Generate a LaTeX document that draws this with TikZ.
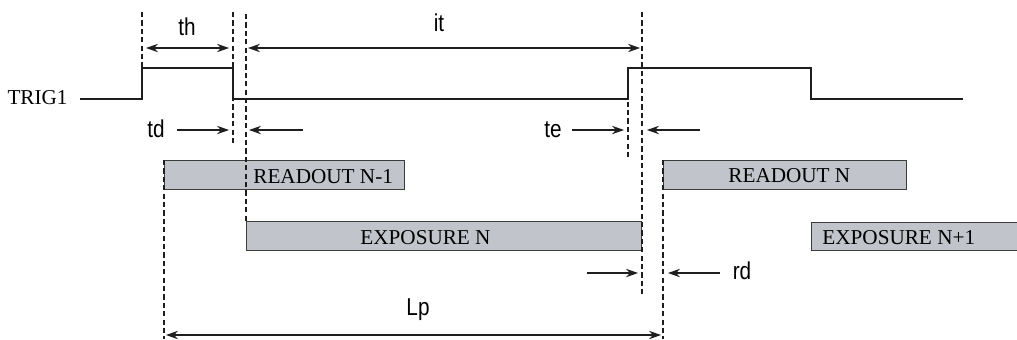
\documentclass[tikz,border=0pt]{standalone}
\usepackage{fontspec}
\setmainfont{Liberation Serif}
\setsansfont{Liberation Sans}[FakeStretch=0.85]
\usetikzlibrary{arrows.meta,positioning}
\definecolor{bargray}{RGB}{193,196,202}
\definecolor{barline}{RGB}{60,60,60}
\definecolor{sigline}{RGB}{30,30,30}
\tikzset{
	signal/.style={draw=sigline,line width=0.65pt},
	guide/.style={draw=sigline,line width=0.55pt,dash pattern=on 2.6pt off 1.6pt},
	bar/.style={draw=barline,fill=bargray,line width=0.5pt},
	gap/.style={draw=sigline,line width=0.55pt,-{Stealth[length=6pt,width=4.2pt]}},
	span/.style={draw=sigline,line width=0.55pt,{Stealth[length=6pt,width=4.2pt]}-{Stealth[length=6pt,width=4.2pt]}},
	tlabel/.style={font=\fontsize{12.2}{14}\sffamily,inner sep=0pt},
	blabel/.style={font=\fontsize{10.6}{12}\selectfont,inner sep=0pt},
}

\begin{document}
\begin{tikzpicture}[x=0.5pt,y=-0.5pt]
		\useasboundingbox (0,0) rectangle (1017,339);

		% bars
		\draw[bar] (164,160) rectangle (404,189);
		\draw[bar] (246,221) rectangle (641,250);
		\draw[bar] (663,160) rectangle (906,189);
		\draw[bar] (811,222) rectangle (1022,250);

		\begin{scope}[every node/.style={blabel,anchor=west}]
			\node (readprev) at (253,177) {READOUT N-1};
			\node (expcur) at (360,238) {EXPOSURE N};
			\node (readcur) at (728,176) {READOUT N};
			\node (expnext) at (822,238) {EXPOSURE N+1};
		\end{scope}

		% guides
		\foreach \x/\ya/\yb in {142/12/68, 233/12/145, 246/14/221, 628/68/160, 642/12/295, 164/160/339, 663/160/339}
			\draw[guide] (\x,\ya) -- (\x,\yb);

		% trigger
		\node[blabel,anchor=east] (trig) at (68,97.5) {TRIG1};
		\draw[signal] (80,99) -- (142,99) -- (142,68) -- (233,68) -- (233,99)
			-- (628,99) -- (628,68) -- (811,68) -- (811,99) -- (963,99);

		\begin{scope}[every node/.style={tlabel}]
			\node (th) at (187,27) {th};
			\node (it) at (439,23) {it};
			\node (td) at (156,129) {td};
			\node (te) at (553,130) {te};
			\node (rd) at (742,271) {rd};
			\node (lp) at (418,310) {Lp};
		\end{scope}

		% arrows
		\draw[span] (146,48) -- (229,48);
		\draw[span] (248,48) -- (640,48);
		\draw[gap] (177,130) -- (229,130);
		\draw[gap] (303,130) -- (249,130);
		\draw[gap] (572,130) -- (624,130);
		\draw[gap] (700,130) -- (647,130);
		\draw[gap] (587,273) -- (638,273);
		\draw[gap] (720,273) -- (668,273);
		\draw[span] (166,335) -- (661,335);
	\end{tikzpicture}
\end{document}
